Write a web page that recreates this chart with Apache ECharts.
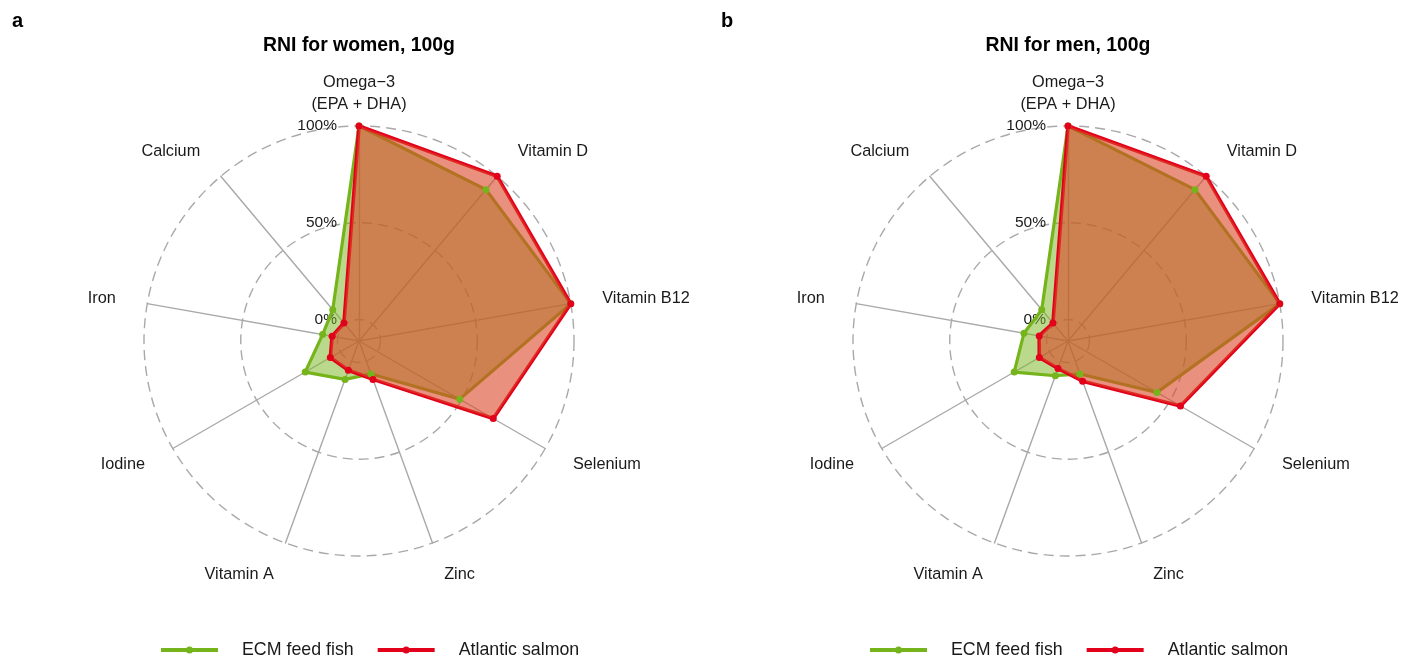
<!DOCTYPE html>
<html>
<head>
<meta charset="utf-8">
<title>RNI radar charts</title>
<script src="https://cdn.jsdelivr.net/npm/echarts@6/dist/echarts.min.js"></script>
<style>
  html, body { margin: 0; padding: 0; background: #ffffff; }
  #chart { width: 1419px; height: 664px; }
</style>
</head>
<body>
<div id="chart"></div>
<script>
// Nutrients, listed clockwise from the top of each radar
const nutrients = ['Omega\u22123\n(EPA + DHA)', 'Vitamin D', 'Vitamin B12', 'Selenium', 'Zinc', 'Vitamin A', 'Iodine', 'Iron', 'Calcium'];

// Share of the recommended nutrient intake covered by 100 g (%)
const womenEcm = [100, 91, 100, 49, 7, 10, 21, 8, 10];
const womenSalmon = [100, 100, 100, 69, 10, 5, 6, 3, 1];
const menEcm = [100, 91, 100, 42, 7, 8, 21, 12, 10];
const menSalmon = [100, 100, 100, 56, 11, 4, 6, 4, 1];

// Gridline labels
const gridTicks = [0, 50, 100];

const seriesNames = ['ECM feed fish', 'Atlantic salmon'];
const panelTitles = ['RNI for women, 100g', 'RNI for men, 100g'];
const panelLetters = ['a', 'b'];

const GREEN = '#76b41c';
const RED = '#e2001a';
const GRID = '#a9a9a9';
const TEXT = '#1a1a1a';
const FONT = '"Liberation Sans", Arial, Helvetica, sans-serif';
const CLEAR = 'rgba(0,0,0,0)';

// The centre of each radar sits below 0 so that the 0% ring has a small radius
const AXIS_MIN = -100 / 9;
const AXIS_MAX = 100;
const SPLITS = 20;                      // step of 50/9 -> rings land on 0, 50 and 100
const NTICKS = SPLITS + 2;

// ECharts lays indicators out counter-clockwise, so reverse all but the first
function ccw(arr) { return [arr[0]].concat(arr.slice(1).reverse()); }

function tickIndex(v) { return Math.round((v - AXIS_MIN) / ((AXIS_MAX - AXIS_MIN) / SPLITS)); }

// Base grid: dashed rings at 50% and 100%
const baseRings = [];
for (let i = 0; i < NTICKS; i++) baseRings.push(CLEAR);
gridTicks.forEach(t => { if (t > 0) baseRings[tickIndex(t)] = GRID; });
baseRings[NTICKS - 1] = GRID;

// Overlay: white disc inside the 0% ring (hides spoke ends) plus the 0% ring itself
const innerRings = [];
const innerAreas = [];
for (let i = 0; i < NTICKS; i++) {
  innerRings.push(i === tickIndex(0) ? GRID : CLEAR);
  innerAreas.push(i < tickIndex(0) ? '#ffffff' : CLEAR);
}

function pctLabel(v) {
  for (const t of gridTicks) if (Math.abs(v - t) < 1e-6) return t + '%';
  return '';
}

function buildIndicators(withText) {
  return ccw(nutrients).map((name, i) => {
    const ind = { name: withText ? name : '', min: AXIS_MIN, max: AXIS_MAX, nameGap: 32 };
    if (withText) {
      if (i === 0) {
        ind.nameGap = 10;
        ind.axisLabel = { show: true };
      }
      if (name === 'Zinc' || name === 'Vitamin A') ind.nameGap = 34;
    }
    return ind;
  });
}

const ringStyle = { width: 1.4, type: [10, 6] };

function buildRadar(cx) {
  return {
    center: [cx, 341],
    radius: 215,
    shape: 'circle',
    startAngle: 90,
    splitNumber: SPLITS,
    indicator: buildIndicators(true),
    axisName: { color: TEXT, fontSize: 16.3, fontFamily: FONT, lineHeight: 22 },
    axisLine: { show: true, lineStyle: { color: GRID, width: 1.4 } },
    axisTick: { show: false },
    axisLabel: {
      show: false, color: TEXT, fontSize: 15.5, fontFamily: FONT,
      margin: 22, formatter: pctLabel, showMinLabel: true, showMaxLabel: true
    },
    splitLine: { show: true, lineStyle: Object.assign({ color: baseRings }, ringStyle) },
    splitArea: { show: false }
  };
}

function buildInnerRadar(cx) {
  return {
    center: [cx, 341],
    radius: 215,
    shape: 'circle',
    startAngle: 90,
    splitNumber: SPLITS,
    indicator: buildIndicators(false),
    axisName: { show: false },
    axisLine: { show: false },
    axisTick: { show: false },
    axisLabel: { show: false },
    splitLine: { show: true, lineStyle: Object.assign({ color: innerRings }, ringStyle) },
    splitArea: { show: true, areaStyle: { color: innerAreas, opacity: 1 } }
  };
}

function buildSeries(radarIndex, ecm, salmon) {
  const common = { type: 'radar', radarIndex: radarIndex, symbol: 'circle', symbolSize: 7, silent: true };
  return [
    Object.assign({}, common, {
      name: seriesNames[0],
      data: [{ value: ccw(ecm), name: seriesNames[0] }],
      itemStyle: { color: GREEN },
      lineStyle: { color: GREEN, width: 3.2 },
      areaStyle: { color: 'rgba(118,180,28,0.5)', opacity: 1 }
    }),
    Object.assign({}, common, {
      name: seriesNames[1],
      data: [{ value: ccw(salmon), name: seriesNames[1] }],
      itemStyle: { color: RED },
      lineStyle: { color: RED, width: 3.6 },
      areaStyle: { color: 'rgba(220,70,40,0.6)', opacity: 1 }
    })
  ];
}

// Legend icon: a thick line with a dot in the middle
const LEGEND_ICON = 'path://M0,1.5L57,1.5L57,5.5L0,5.5Z M32,3.5A3.5,3.5,0,1,1,25,3.5A3.5,3.5,0,1,1,32,3.5Z';

function buildLegend(left) {
  return {
    left: left, top: 636,
    orient: 'horizontal',
    selectedMode: false,
    itemWidth: 57, itemHeight: 7, itemGap: 24,
    textStyle: { color: TEXT, fontSize: 17.8, fontFamily: FONT, padding: [0, 0, 0, 19] },
    data: [
      { name: seriesNames[0], icon: LEGEND_ICON, itemStyle: { color: GREEN, borderWidth: 0, opacity: 1 } },
      { name: seriesNames[1], icon: LEGEND_ICON, itemStyle: { color: RED, borderWidth: 0, opacity: 1 } }
    ]
  };
}

const centers = [359, 1068];

const titleStyle = { fontSize: 19.4, fontWeight: 'bold', color: '#000', fontFamily: FONT };
const letterStyle = { fontSize: 20, fontWeight: 'bold', color: '#000', fontFamily: FONT };

const option = {
  backgroundColor: '#ffffff',
  animation: false,
  textStyle: { fontFamily: FONT },
  title: [
    { text: panelTitles[0], left: centers[0] - 5, top: 31, textAlign: 'center', textStyle: titleStyle },
    { text: panelTitles[1], left: centers[1] - 5, top: 31, textAlign: 'center', textStyle: titleStyle },
    { text: panelLetters[0], left: 7, top: 6, textStyle: letterStyle },
    { text: panelLetters[1], left: 716, top: 6, textStyle: letterStyle }
  ],
  legend: [buildLegend(156), buildLegend(865)],
  radar: [
    buildRadar(centers[0]), buildRadar(centers[1]),
    buildInnerRadar(centers[0]), buildInnerRadar(centers[1])
  ],
  series: buildSeries(0, womenEcm, womenSalmon).concat(buildSeries(1, menEcm, menSalmon))
};

const chart = echarts.init(document.getElementById('chart'), null, { renderer: 'canvas' });
chart.setOption(option);
</script>
</body>
</html>
